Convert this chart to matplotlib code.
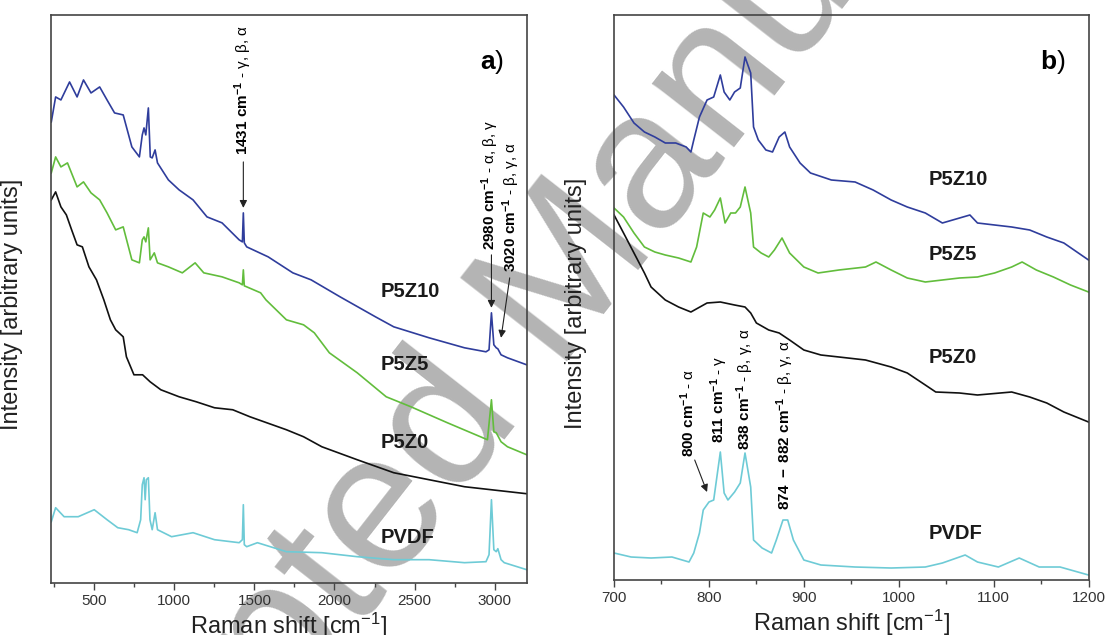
import numpy as np
import matplotlib
matplotlib.use("Agg")
import matplotlib.pyplot as plt
from matplotlib.ticker import MultipleLocator, NullLocator

plt.rcParams['font.family'] = ['Liberation Sans', 'DejaVu Sans']
plt.rcParams['mathtext.fontset'] = 'custom'
plt.rcParams['mathtext.rm'] = 'Liberation Sans'
plt.rcParams['mathtext.bf'] = 'Liberation Sans:bold'
plt.rcParams['mathtext.it'] = 'Liberation Sans:italic'

# ---- panel a) full spectra (Raman shift cm-1, intensity a.u.)
a_p5z10_x = [232, 259, 292, 346, 393, 433, 480, 534, 580, 627, 681, 735, 782, 800, 811, 822, 838, 850, 862, 880, 895,
             963, 1030, 1117, 1204, 1298, 1405, 1425, 1431, 1437, 1452, 1586, 1740, 1854, 2035, 2256, 2370, 2591, 2812,
             2946, 2965, 2980, 2995, 3010, 3020, 3040, 3080, 3200]
a_p5z10_y = [478, 503, 500, 518, 503, 520, 507, 513, 500, 487, 485, 453, 443, 465, 472, 465, 492, 443, 442, 450, 437,
             420, 410, 400, 383, 377, 360, 358, 387, 357, 353, 343, 327, 320, 303, 283, 273, 262, 252,
             248, 250, 287, 255, 252, 251, 245, 242, 235]

a_p5z5_x = [232, 259, 292, 333, 393, 433, 480, 534, 580, 634, 681, 735, 782, 800, 811, 822, 838, 849, 875, 895, 963,
            1050, 1130, 1184, 1298, 1405, 1425, 1431, 1437, 1452, 1539, 1572, 1700, 1807, 1874, 1968, 2142, 2323, 2477,
            2705, 2926, 2955, 2980, 2995, 3010, 3020, 3040, 3080, 3200]
a_p5z5_y = [427, 443, 433, 437, 413, 418, 407, 400, 387, 370, 373, 340, 337, 360, 363, 358, 372, 340, 347, 337, 333,
            327, 337, 327, 323, 317, 315, 330, 314, 313, 307, 300, 280, 275, 267, 247, 227, 203, 193,
            177, 162, 160, 200, 168, 167, 164, 158, 153, 145]

a_p5z0_x = [232, 259, 292, 326, 359, 393, 426, 467, 514, 560, 601, 634, 681, 701, 748, 802, 849, 916, 1030, 1137,
            1251, 1365, 1472, 1700, 1807, 1921, 2142, 2370, 2591, 2812, 3200]
a_p5z0_y = [400, 408, 393, 385, 370, 355, 353, 333, 320, 300, 280, 270, 263, 243, 225, 225, 218, 210, 203, 198,
            192, 190, 183, 170, 163, 153, 140, 127, 120, 113, 106]

a_pvdf_x = [232, 259, 312, 400, 500, 580, 647, 715, 768, 790, 800, 811, 818, 825, 838, 848, 862, 880, 895, 983,
            1117, 1251, 1405, 1425, 1431, 1437, 1452, 1519, 1700, 1921, 2142, 2370, 2591, 2812, 2946, 2965, 2980,
            2995, 3010, 3020, 3040, 3060, 3200]
a_pvdf_y = [78, 92, 83, 83, 90, 80, 72, 70, 67, 80, 115, 122, 100, 120, 122, 80, 70, 87, 70, 63,
            67, 60, 57, 60, 95, 55, 53, 57, 48, 47, 43, 40, 40, 37, 38, 45, 100,
            50, 48, 51, 40, 37, 30]

# ---- panel b) 700-1200 cm-1 region
b_p5z10_x = [700, 710, 721, 732, 743, 754, 765, 776, 781, 784, 790, 798, 805, 812, 816, 822, 827, 833, 838, 844, 847,
             852, 860, 867, 874, 880, 885, 896, 907, 929, 954, 973, 992, 1009, 1028, 1046, 1075, 1083, 1119, 1138,
             1156, 1174, 1200]
b_p5z10_y = [505, 493, 477, 468, 463, 457, 457, 453, 448, 460, 483, 500, 503, 525, 508, 500, 508, 512, 543, 527, 473,
             460, 450, 448, 463, 468, 453, 437, 427, 420, 418, 410, 400, 393, 387, 377, 385, 377, 373, 370,
             363, 357, 340]

b_p5z5_x = [700, 710, 721, 732, 743, 754, 768, 781, 787, 794, 801, 806, 812, 817, 823, 828, 833, 838, 844, 847, 855,
            863, 869, 877, 885, 900, 915, 937, 965, 976, 992, 1009, 1028, 1046, 1064, 1083, 1101, 1119, 1130, 1145,
            1163, 1181, 1200]
b_p5z5_y = [392, 383, 367, 353, 348, 345, 342, 338, 353, 387, 383, 390, 402, 377, 387, 387, 393, 413, 387, 353, 347,
            343, 350, 362, 347, 333, 327, 330, 333, 338, 330, 322, 318, 320, 322, 323, 327, 333, 338, 330,
            323, 315, 308]

b_p5z0_x = [700, 710, 721, 732, 739, 754, 768, 781, 798, 812, 827, 838, 844, 850, 863, 874, 885, 900, 918, 937, 965,
            992, 1009, 1028, 1039, 1064, 1083, 1119, 1138, 1156, 1174, 1200]
b_p5z0_y = [385, 367, 347, 327, 313, 300, 293, 288, 297, 298, 295, 293, 287, 277, 270, 267, 260, 250, 245, 243, 240,
            233, 227, 215, 208, 207, 205, 208, 203, 197, 188, 178]

b_pvdf_x = [700, 718, 739, 761, 779, 784, 790, 794, 800, 805, 812, 816, 820, 827, 833, 838, 844, 847, 856, 866, 871,
            878, 883, 889, 900, 918, 954, 992, 1028, 1046, 1070, 1083, 1105, 1127, 1148, 1170, 1200]
b_pvdf_y = [47, 43, 42, 43, 38, 47, 67, 90, 98, 100, 148, 107, 100, 108, 117, 147, 113, 60, 52, 47, 60,
            80, 80, 60, 40, 35, 33, 32, 33, 37, 45, 38, 33, 42, 33, 33, 25]

sample_names = ["P5Z10", "P5Z5", "P5Z0", "PVDF"]
colors = ["#2f3d9c", "#62bd3c", "#111111", "#6ecbd6"]

# label anchors (x in cm-1, y in a.u.)
a_label_x = 2291
a_label_y = [308, 235, 157, 62]
b_label_x = 1032
b_label_y = [420, 345, 242, 67]

fig = plt.figure(figsize=(11.06, 6.35), dpi=100)
ax_a = fig.add_axes([0.0458, 0.0824, 0.4304, 0.8940])
ax_b = fig.add_axes([0.5552, 0.0866, 0.4290, 0.8898])

# faint watermark lying under the curves
fig.text(0.492, 0.515, "Accepted Manuscript", rotation=52, ha="center", va="center",
         rotation_mode="anchor", fontsize=142, color="#b4b4b4", zorder=-1)

series_a = [(a_p5z10_x, a_p5z10_y), (a_p5z5_x, a_p5z5_y), (a_p5z0_x, a_p5z0_y), (a_pvdf_x, a_pvdf_y)]
series_b = [(b_p5z10_x, b_p5z10_y), (b_p5z5_x, b_p5z5_y), (b_p5z0_x, b_p5z0_y), (b_pvdf_x, b_pvdf_y)]

for ax, series, lx, ly in [(ax_a, series_a, a_label_x, a_label_y), (ax_b, series_b, b_label_x, b_label_y)]:
    ax.set_facecolor("none")
    for (x, y), c, name, yy in zip(series, colors, sample_names, ly):
        ax.plot(x, y, color=c, lw=1.2)
        ax.text(lx, yy, name, fontsize=14.5, fontweight="bold", color="#1a1a1a", va="center", ha="left")
    for s in ax.spines.values():
        s.set_color("#444444")
        s.set_linewidth(1.2)
    ax.yaxis.set_major_locator(NullLocator())
    ax.tick_params(axis="x", which="major", direction="out", length=5, width=1, color="#444444",
                   labelsize=11, labelcolor="#333333", pad=3, top=False)
    ax.tick_params(axis="x", which="minor", direction="out", length=3, width=1, color="#444444", top=False)
    ax.set_xlabel(r"Raman shift [cm$^{\mathregular{-1}}$]", fontsize=17, color="#222222", labelpad=2)
    ax.set_ylabel("Intensity [arbitrary units]", fontsize=17, color="#222222")
    ax.yaxis.set_label_coords(-0.058, 0.49)
    ax.set_ylim(17, 585)

ax_a.set_xlim(228, 3200)
ax_a.xaxis.set_major_locator(MultipleLocator(500))
ax_a.xaxis.set_minor_locator(MultipleLocator(250))
ax_b.set_xlim(700, 1200)
ax_b.set_ylim(20, 585)
ax_b.xaxis.set_major_locator(MultipleLocator(100))
ax_b.xaxis.set_minor_locator(MultipleLocator(50))

ax_a.text(0.927, 0.917, r"$\mathbf{a}$)", transform=ax_a.transAxes, fontsize=19, ha="center", va="center")
ax_b.text(0.925, 0.917, r"$\mathbf{b}$)", transform=ax_b.transAxes, fontsize=19, ha="center", va="center")

arrow = dict(arrowstyle="-|>", color="#222222", lw=0.8, mutation_scale=11, shrinkA=0, shrinkB=0)
ann_fs = 11

# panel a peak assignments
ax_a.text(1431, 445, r"$\mathbf{1431\ cm^{-1}}$ - γ, β, α", rotation=90, ha="center", va="bottom", fontsize=ann_fs)
ax_a.annotate("", xy=(1431, 392), xytext=(1431, 438), arrowprops=arrow)
ax_a.text(2972, 350, r"$\mathbf{2980\ cm^{-1}}$ - α, β, γ", rotation=90, ha="center", va="bottom", fontsize=ann_fs)
ax_a.annotate("", xy=(2980, 292), xytext=(2980, 345), arrowprops=arrow)
ax_a.text(3105, 328, r"$\mathbf{3020\ cm^{-1}}$ - β, γ, α", rotation=90, ha="center", va="bottom", fontsize=ann_fs)
ax_a.annotate("", xy=(3040, 262), xytext=(3094, 322), arrowprops=arrow)

# panel b peak assignments
ax_b.text(778, 143, r"$\mathbf{800\ cm^{-1}}$ - α", rotation=90, ha="center", va="bottom", fontsize=ann_fs)
ax_b.annotate("", xy=(798, 108), xytext=(785, 140), arrowprops=arrow)
ax_b.text(811, 157, r"$\mathbf{811\ cm^{-1}}$ - γ", rotation=90, ha="center", va="bottom", fontsize=ann_fs)
ax_b.text(838, 150, r"$\mathbf{838\ cm^{-1}}$ - β, γ, α", rotation=90, ha="center", va="bottom", fontsize=ann_fs)
ax_b.text(880, 90, r"$\mathbf{874\ -\ 882\ cm^{-1}}$ - β, γ, α", rotation=90, ha="center", va="bottom",
          fontsize=ann_fs)

fig.savefig("out.png", dpi=100)
